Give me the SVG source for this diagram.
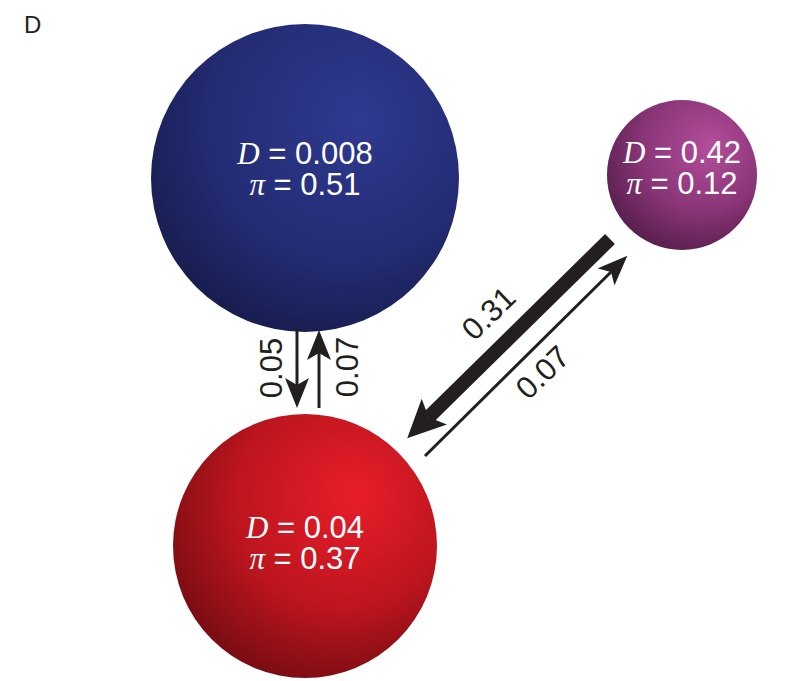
<svg xmlns="http://www.w3.org/2000/svg" width="791" height="681" viewBox="0 0 791 681">
<defs>
<radialGradient id="gBlue" cx="0.6" cy="0.35" r="0.75" fx="0.68" fy="0.3">
<stop offset="0" stop-color="#2f3a90"/>
<stop offset="0.6" stop-color="#232b73"/>
<stop offset="1" stop-color="#151a45"/>
</radialGradient>
<radialGradient id="gRed" cx="0.6" cy="0.35" r="0.75" fx="0.7" fy="0.3">
<stop offset="0" stop-color="#e81e2a"/>
<stop offset="0.55" stop-color="#bd151e"/>
<stop offset="1" stop-color="#6a0b10"/>
</radialGradient>
<radialGradient id="gPurple" cx="0.6" cy="0.35" r="0.75" fx="0.7" fy="0.3">
<stop offset="0" stop-color="#b44e9c"/>
<stop offset="0.55" stop-color="#8a3577"/>
<stop offset="1" stop-color="#4e1a45"/>
</radialGradient>
<marker id="ah" viewBox="0 0 30 24" refX="7" refY="12" markerWidth="30" markerHeight="24" markerUnits="userSpaceOnUse" orient="auto">
<path d="M0,0 L30,12 L0,24 L7,12 Z" fill="#231f20"/>
</marker>
<marker id="ahThick" viewBox="0 0 38 36" refX="8" refY="18" markerWidth="38" markerHeight="36" markerUnits="userSpaceOnUse" orient="auto">
<path d="M0,0 L38,18 L0,36 L8,18 Z" fill="#231f20"/>
</marker>
</defs>
<style>
.lab{font-family:"Liberation Sans",Arial,sans-serif;fill:#231f20;font-size:31px;text-anchor:middle}
.t{font-family:"Liberation Sans",Arial,sans-serif;fill:#fff;font-size:31px;text-anchor:middle}
.it{font-family:"Liberation Serif","Times New Roman",serif;font-style:italic}
.ln{stroke:#231f20;fill:none}
</style>
<text x="24" y="33" style="font-family:'Liberation Sans',Arial,sans-serif;font-size:24px;fill:#231f20">D</text>
<g id="node-blue">
<circle cx="305" cy="178" r="154" fill="url(#gBlue)"/>
<text class="t" x="305" y="164"><tspan class="it">D</tspan> = 0.008<tspan x="305" y="195"><tspan class="it">π</tspan> = 0.51</tspan></text>
</g>
<g id="node-red">
<circle cx="305" cy="546" r="132" fill="url(#gRed)"/>
<text class="t" x="305" y="538"><tspan class="it">D</tspan> = 0.04<tspan x="305" y="569"><tspan class="it">π</tspan> = 0.37</tspan></text>
</g>
<g id="node-purple">
<circle cx="682" cy="175" r="75" fill="url(#gPurple)"/>
<text class="t" x="682" y="163"><tspan class="it">D</tspan> = 0.42<tspan x="682" y="194"><tspan class="it">π</tspan> = 0.12</tspan></text>
</g>
<g id="connectors">
<line class="ln" x1="297" y1="328" x2="297" y2="385" stroke-width="3" marker-end="url(#ah)"/>
<line class="ln" x1="319" y1="408" x2="319" y2="353" stroke-width="3" marker-end="url(#ah)"/>
<line class="ln" x1="610" y1="239" x2="428.6" y2="417.2" stroke-width="14" marker-end="url(#ahThick)"/>
<line class="ln" x1="425" y1="456" x2="611" y2="272" stroke-width="3" marker-end="url(#ah)"/>
</g>
<text class="lab" transform="translate(282,368) rotate(-90)">0.05</text>
<text class="lab" transform="translate(358,367) rotate(-90)">0.07</text>
<text class="lab" transform="translate(496,321) rotate(-44)">0.31</text>
<text class="lab" transform="translate(550,380) rotate(-44)">0.07</text>
</svg>
